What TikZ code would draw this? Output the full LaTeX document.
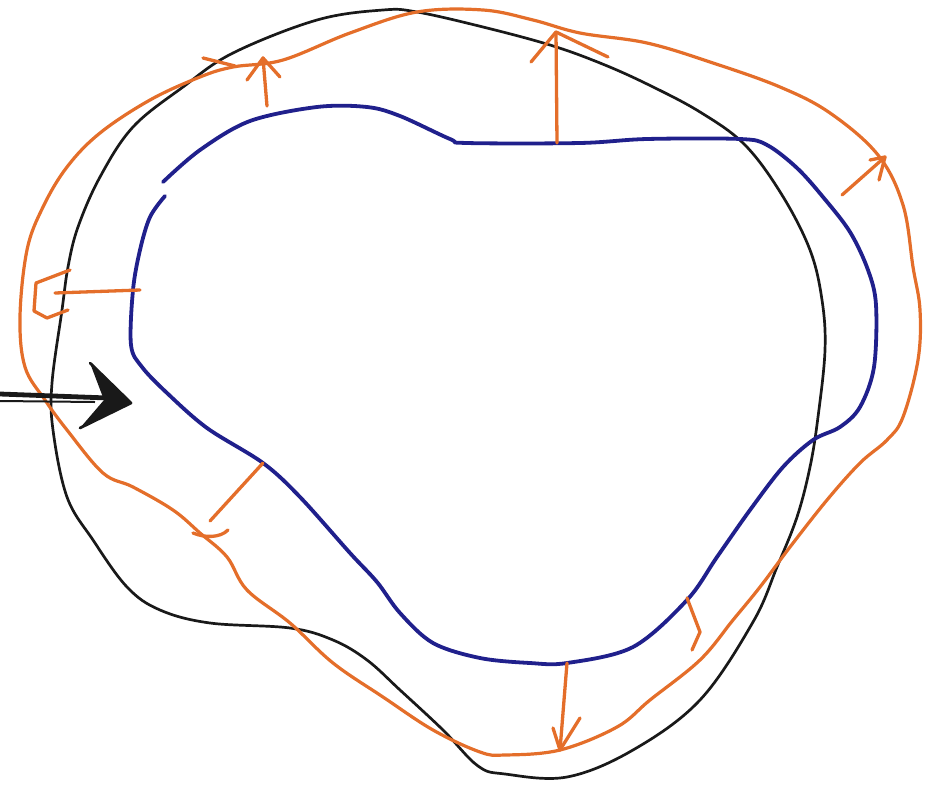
\documentclass[tikz,border=0pt]{standalone}
\definecolor{penblue}{RGB}{32,32,140}
\definecolor{penorange}{RGB}{228,110,42}
\definecolor{penblack}{RGB}{25,25,25}
\tikzset{
  bluecurve/.style={draw=penblue,line width=3.8pt,line cap=round,line join=round},
  orangecurve/.style={draw=penorange,line width=3.2pt,line cap=round,line join=round},
  blackcurve/.style={draw=penblack,line width=2.7pt,line cap=round,line join=round},
  orangestroke/.style={draw=penorange,line width=3.3pt,line cap=round,line join=round},
}
\begin{document}
\begin{tikzpicture}[x=1pt,y=-1pt]
\useasboundingbox (0,0) rectangle (936,787);
% black closed curve
\draw[blackcurve] plot[smooth cycle,tension=0.6] coordinates {
(383,10) (417,12) (483,27) (550,45) (600,63) (647,84) (700,112) (745,145) (782,195)
(810,250) (822,300) (825,350) (818,417) (810,467) (797,517) (777,567) (753,622)
(700,700) (633,750) (567,777) (505,774) (478,766) (443,730) (400,690) (367,660)
(333,640) (290,628) (210,623) (160,610) (127,587) (93,540) (67,497) (53,430)
(52,383) (62,310) (68,267) (78,227) (100,177) (133,127) (183,87) (233,53) (317,20)};
% orange closed curve
\draw[orangecurve] plot[smooth cycle,tension=0.6] coordinates {
(417,12) (483,10) (533,20) (580,33) (647,43) (713,63) (780,87) (830,113) (878,155)
(903,205) (913,267) (920,310) (918,360) (903,417) (887,440) (860,463) (827,500)
(790,547) (760,587) (733,620) (700,660) (650,700) (617,727) (560,750) (505,755)
(480,752) (433,730) (383,697) (333,663) (290,623) (247,590) (227,557) (200,533)
(173,510) (133,487) (103,473) (67,430) (45,400) (25,367) (20,317) (27,250)
(43,207) (67,167) (100,133) (150,100) (200,77) (233,67) (283,60) (350,33)};
% blue open curve
\draw[bluecurve] plot[smooth,tension=0.55] coordinates {
(165,196) (150,217) (140,250) (133,290) (131,345) (142,367) (167,393) (207,428)
(263,463) (300,497) (350,553) (377,582) (400,613) (433,643) (480,658) (530,663)
(567,663) (633,647) (687,600) (717,557) (750,510) (783,467) (813,440) (840,427)
(860,407) (874,367) (876,305) (868,270) (850,232) (823,197) (797,168) (767,145)
(740,139) (647,139) (580,143) (467,143) (450,139) (400,116) (367,107) (317,107)
(250,121) (200,150) (163,182)};
% arrow 1 (top left)
\coordinate (a1s) at (267,106);
\coordinate (a1t) at (263,58);
\draw[orangestroke] (a1s) -- (a1t);
\draw[orangestroke] (247,80) -- (a1t) -- (280,77);
\draw[orangestroke] (203,58) -- (235,66);
% arrow 2 (top middle)
\coordinate (a2s) at (557,143);
\coordinate (a2t) at (556,32);
\draw[orangestroke] (a2s) -- (a2t);
\draw[orangestroke] (531,62) -- (a2t) -- (608,57);
% arrow 3 (right)
\coordinate (a3s) at (842,195);
\coordinate (a3t) at (885,157);
\draw[orangestroke] (a3s) -- (a3t);
\draw[orangestroke] (870,160) -- (a3t) -- (879,180);
% arrow 4 (left hook)
\coordinate (a4s) at (140,290);
\coordinate (a4t) at (55,293);
\draw[orangestroke] (a4s) -- (a4t);
\draw[orangestroke] (70,270) -- (36,283) -- (34,311) -- (47,318) -- (68,310);
% arrow 5 (lower left)
\coordinate (a5s) at (263,463);
\coordinate (a5t) at (210,521);
\draw[orangestroke] (a5s) -- (a5t);
\draw[orangestroke] (193,533) .. controls (205,538) and (220,538) .. (228,530);
% arrow 6 (bottom)
\coordinate (a6s) at (567,663);
\coordinate (a6t) at (560,750);
\draw[orangestroke] (a6s) -- (a6t);
\draw[orangestroke] (553,728) -- (a6t) -- (580,718);
% arrow 7 (bottom right small)
\coordinate (a7s) at (687,598);
\coordinate (a7m) at (700,632);
\coordinate (a7t) at (692,650);
\draw[orangestroke] (a7s) -- (a7m) -- (a7t);
% black thick arrow
\coordinate (ks) at (0,394);
\coordinate (kt) at (108,398);
\draw[penblack,line width=4.8pt,line cap=round] (ks) -- (kt);
\draw[penblack,line width=2pt] (0,401) -- (95,402);
\fill[penblack,line join=round] (90,363) -- (131,403) -- (80,428) -- (104,400) -- cycle;
\draw[penblack,line width=2.8pt,line join=round,line cap=round] (90,363) -- (131,403) -- (80,428);
\end{tikzpicture}
\end{document}
